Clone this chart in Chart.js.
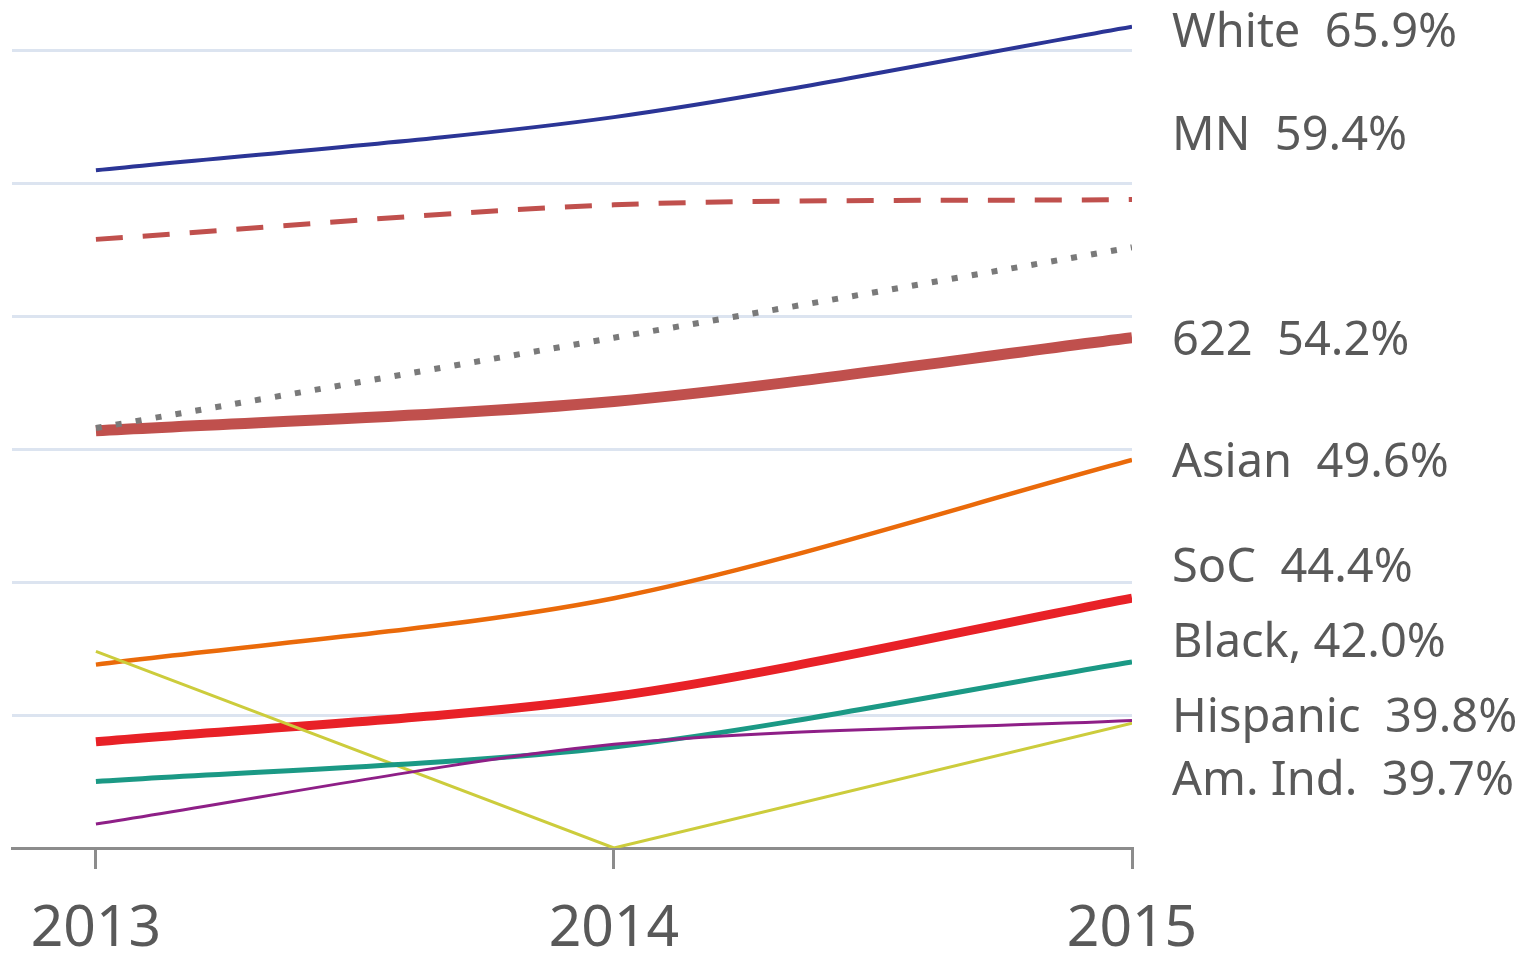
<!DOCTYPE html>
<html lang="en">
<head>
    <meta charset="UTF-8">
    <title>Rates 2013-2015</title>
    <script src="https://cdn.jsdelivr.net/npm/chart.js"></script>
</head>
<body>
    <div class="grafico">
        <canvas id="myChart"></canvas>
    </div>
</body>
</html>

<script>
    // data
    var anos = [2013, 2014, 2015];
    var white = [60.5, 62.5, 65.9];
    var mn = [57.9, 59.2, 59.4];
    var pontilhado = [50.8, 54.2, 57.6];
    var s622 = [50.7, 51.8, 54.2];
    var asian = [41.9, 44.4, 49.6];
    var soc = [39.0, 40.7, 44.4];
    var black = [37.5, 38.8, 42.0];
    var hispanic = [35.9, 38.9, 39.8];
    var amInd = [42.4, 35.0, 39.7];
    var rotulos = ['White  65.9%', 'MN  59.4%', '622  54.2%', 'Asian  49.6%',
                   'SoC  44.4%', 'Black, 42.0%', 'Hispanic  39.8%', 'Am. Ind.  39.7%'];

    function pontos(valores){
        var p = [];
        for(var i = 0; i < anos.length; i++){
            p.push({x: anos[i], y: valores[i]});
        }
        return p;
    }

    function serie(nome, valores, cor, largura, extra){
        var d = {
            label: nome,
            data: pontos(valores),
            borderColor: cor,
            borderWidth: largura,
            pointRadius: 0,
            fill: false,
            tension: 0.3
        };
        for(var k in extra){ d[k] = extra[k]; }
        return d;
    }

    // right hand labels, baselines in px
    const rotulosPlugin = {
        id: 'rotulos',
        afterDraw(chart){
            var ctx = chart.ctx;
            var linhas = [47, 150, 355, 477, 582, 657, 732, 795];
            ctx.save();
            ctx.font = '47px "Noto Sans"';
            ctx.fillStyle = '#595959';
            ctx.textBaseline = 'alphabetic';
            ctx.textAlign = 'left';
            for(var i = 0; i < rotulos.length; i++){
                ctx.fillText(rotulos[i], chart.chartArea.right + 40, linhas[i]);
            }
            ctx.restore();
        }
    };

    const data = {
        datasets: [
            serie('Series', pontilhado, '#7a7a7a', 6, {borderDash: [6, 14.2], order: 0}),
            serie('White', white, '#2b3596', 4, {order: 1}),
            serie('MN', mn, '#c0504d', 5, {borderDash: [27, 20], order: 2}),
            serie('Hispanic', hispanic, '#8e1f87', 3, {order: 3}),
            serie('Black', black, '#1b9985', 5, {order: 4}),
            serie('Am. Ind.', amInd, '#cccc3c', 3, {tension: 0, order: 5}),
            serie('SoC', soc, '#e82127', 9, {order: 6}),
            serie('Asian', asian, '#ea6a0a', 4.5, {order: 7}),
            serie('622', s622, '#c0504d', 11, {order: 8})
        ]
    };

    const config = {
        type: 'line',
        data: data,
        options: {
            responsive: true,
            maintainAspectRatio: false,
            animation: false,
            layout: {
                padding: {left: 12, right: 396, top: 0, bottom: 0}
            },
            plugins: {
                legend: {display: false},
                title: {display: false},
                tooltip: {enabled: false}
            },
            scales: {
                x: {
                    type: 'linear',
                    min: 2012.838,
                    max: 2015,
                    afterBuildTicks: function(scale){
                        scale.ticks = anos.map(function(a){ return {value: a}; });
                    },
                    afterFit: function(scale){
                        scale.height = 105;
                        scale.paddingLeft = 0;
                        scale.paddingRight = 0;
                    },
                    grid: {
                        drawOnChartArea: false,
                        drawTicks: true,
                        tickLength: 21,
                        color: '#8c8c8c',
                        lineWidth: 3
                    },
                    border: {display: true, color: '#8c8c8c', width: 3},
                    ticks: {
                        color: '#595959',
                        font: {family: 'Noto Sans', size: 57},
                        padding: 27,
                        maxRotation: 0,
                        callback: function(v){ return String(v); }
                    }
                },
                y: {
                    min: 35,
                    max: 66.7,
                    afterFit: function(scale){
                        scale.width = 0;
                        scale.paddingTop = 0;
                        scale.paddingBottom = 0;
                    },
                    ticks: {display: false, stepSize: 5},
                    border: {display: false},
                    grid: {
                        drawTicks: false,
                        lineWidth: 3,
                        color: function(ctx){
                            var v = ctx.tick ? ctx.tick.value : 0;
                            if(v === 35 || v % 5 !== 0){ return 'rgba(0,0,0,0)'; }
                            return '#dce4f0';
                        }
                    }
                }
            }
        },
        plugins: [rotulosPlugin]
    };

    var myChart = new Chart(document.getElementById('myChart'), config);
</script>
<style>
    body{
        margin: 0;
        background: white;
    }
    .grafico{
        width: 1528px;
        height: 953px;
    }
</style>
